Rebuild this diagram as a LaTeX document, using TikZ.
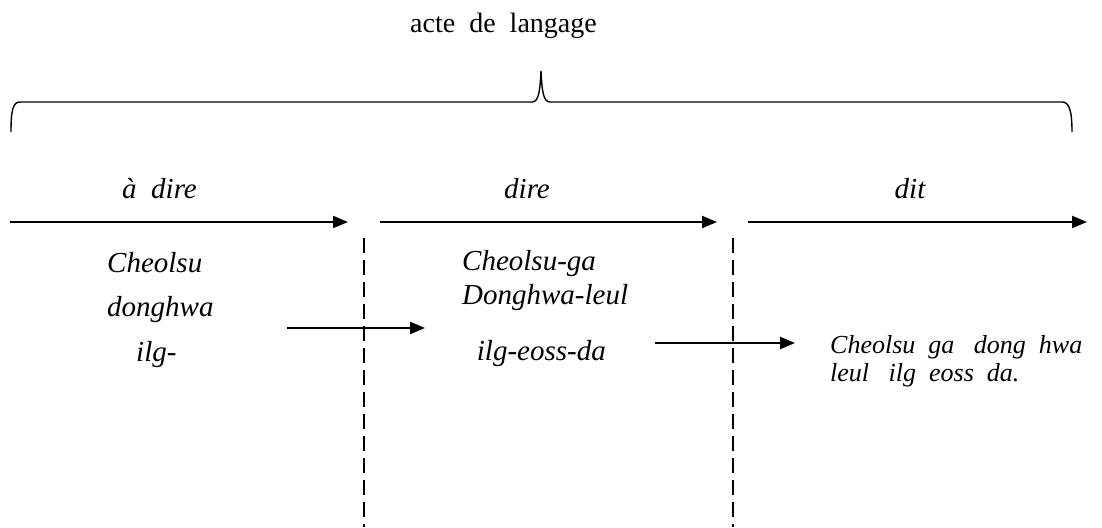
\documentclass[tikz,border=0pt]{standalone}
\usepackage{fontspec}
\setmainfont{Liberation Serif}
\usetikzlibrary{arrows.meta}
\begin{document}
\begin{tikzpicture}[x=1pt,y=-1pt,
  lbl/.style={inner sep=0pt,anchor=base west,font=\fontsize{29}{34}\selectfont\itshape},
  lblsmall/.style={inner sep=0pt,anchor=base west,font=\fontsize{26}{30}\selectfont\itshape},
  flow/.style={line width=2.2pt,-{Triangle[length=15pt,width=12pt]}},
  divider/.style={line width=1.6pt,dash pattern=on 15pt off 7pt},
  brace/.style={line width=1.4pt}]
\useasboundingbox (0,0) rectangle (1102,527);

% heading and brace
\node[inner sep=0pt,anchor=base west,font=\fontsize{28}{32}\selectfont] (title) at (410,33) {acte\ \ de\ \ langage};
\coordinate (bl) at (11,132);
\coordinate (br) at (1072,132);
\coordinate (tip) at (541,71);
\draw[brace] (bl) .. controls (11,110) and (13,102) .. (20,102) -- (532,102)
  .. controls (539,102) and (540,90) .. (tip)
  .. controls (542,90) and (543,102) .. (550,102) -- (1062,102)
  .. controls (1069,102) and (1072,110) .. (br);

% stage arrows
\coordinate (a1s) at (10,222);   \coordinate (a1e) at (348,222);
\coordinate (a2s) at (380,222);  \coordinate (a2e) at (717,222);
\coordinate (a3s) at (748,222);  \coordinate (a3e) at (1087,222);
\draw[flow] (a1s) -- (a1e);
\draw[flow] (a2s) -- (a2e);
\draw[flow] (a3s) -- (a3e);

\node[lbl] (adire) at (122,198) {à\ \ dire};
\node[lbl,anchor=base] (dire) at (527,198) {dire};
\node[lbl,anchor=base] (dit) at (910,198) {dit};

% dividers
\coordinate (d1t) at (364,238); \coordinate (d1b) at (364,527);
\coordinate (d2t) at (733,238); \coordinate (d2b) at (733,527);
\draw[divider] (d1t) -- (d1b);
\draw[divider] (d2t) -- (d2b);

% first column
\node[lbl] (c1a) at (107,272) {Cheolsu};
\node[lbl] (c1b) at (107,316) {donghwa};
\node[lbl] (c1c) at (136,361) {ilg-};

% second column
\node[lbl] (c2a) at (462,270) {Cheolsu-ga};
\node[lbl] (c2b) at (462,304) {Donghwa-leul};
\node[lbl,anchor=base east] (c2c) at (606,360) {ilg-eoss-da};

% third column
\node[lblsmall] (c3a) at (830,353) {Cheolsu\ \ ga\ \ \ dong\ \ hwa};
\node[lblsmall] (c3b) at (830,381) {leul\ \ \ ilg\ \ eoss\ \ da.};

% transitions
\coordinate (t1s) at (287,328); \coordinate (t1e) at (425,328);
\coordinate (t2s) at (655,343); \coordinate (t2e) at (795,343);
\draw[flow] (t1s) -- (t1e);
\draw[flow] (t2s) -- (t2e);
\end{tikzpicture}
\end{document}
